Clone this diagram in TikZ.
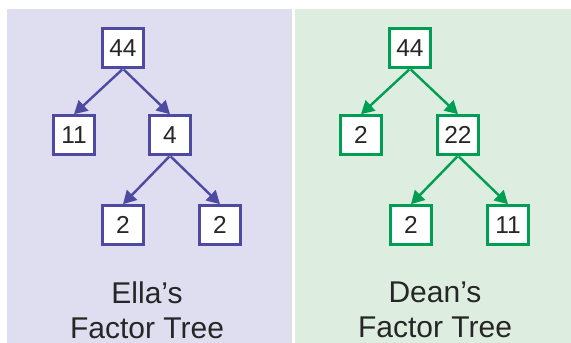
\documentclass[tikz,border=0pt]{standalone}
\usepackage{fontspec}
\setmainfont{Liberation Sans}
\usetikzlibrary{arrows.meta}
\definecolor{ellaline}{RGB}{78,74,162}
\definecolor{ellabg}{RGB}{223,222,240}
\definecolor{deanline}{RGB}{0,158,82}
\definecolor{deanbg}{RGB}{221,237,224}
\begin{document}
\begin{tikzpicture}[x=1pt,y=1pt,
  numbox/.style={draw, fill=white, line width=2.6pt, minimum width=41pt, minimum height=39pt, inner sep=0pt, font=\fontsize{24.5}{28}\selectfont, text=black!85},
  tarrow/.style={line width=2.4pt, -{Triangle[length=13pt,width=14pt]}, shorten <=1pt},
  title/.style={font=\fontsize{30}{35}\selectfont, text=black!85, align=center}]
\useasboundingbox (0,0) rectangle (571,343);
\fill[ellabg] (7,0) rectangle (292,334);
\fill[deanbg] (295,0) rectangle (571,334);
% Ella
\begin{scope}[every node/.append style={draw=ellaline}]
\node[numbox] (e44) at (123,295) {44};
\node[numbox] (e11) at (74,208) {11};
\node[numbox] (e4) at (170,208) {4};
\node[numbox] (e2a) at (123,118) {2};
\node[numbox] (e2b) at (220,118) {2};
\end{scope}
\draw[tarrow, ellaline] (e44.south) -- (e11.north);
\draw[tarrow, ellaline] (e44.south) -- (e4.north);
\draw[tarrow, ellaline] (e4.south) -- (e2a.north);
\draw[tarrow, ellaline] (e4.south) -- (e2b.north);
\node[title] (et) at (147,33) {Ella’s\\Factor Tree};
% Dean
\begin{scope}[every node/.append style={draw=deanline}]
\node[numbox] (d44) at (410,295) {44};
\node[numbox] (d2) at (361,208) {2};
\node[numbox] (d22) at (458,208) {22};
\node[numbox] (d2b) at (411,118) {2};
\node[numbox] (d11) at (508,118) {11};
\end{scope}
\draw[tarrow, deanline] (d44.south) -- (d2.north);
\draw[tarrow, deanline] (d44.south) -- (d22.north);
\draw[tarrow, deanline] (d22.south) -- (d2b.north);
\draw[tarrow, deanline] (d22.south) -- (d11.north);
\node[title] (dt) at (435,33) {Dean’s\\Factor Tree};
\end{tikzpicture}
\end{document}
